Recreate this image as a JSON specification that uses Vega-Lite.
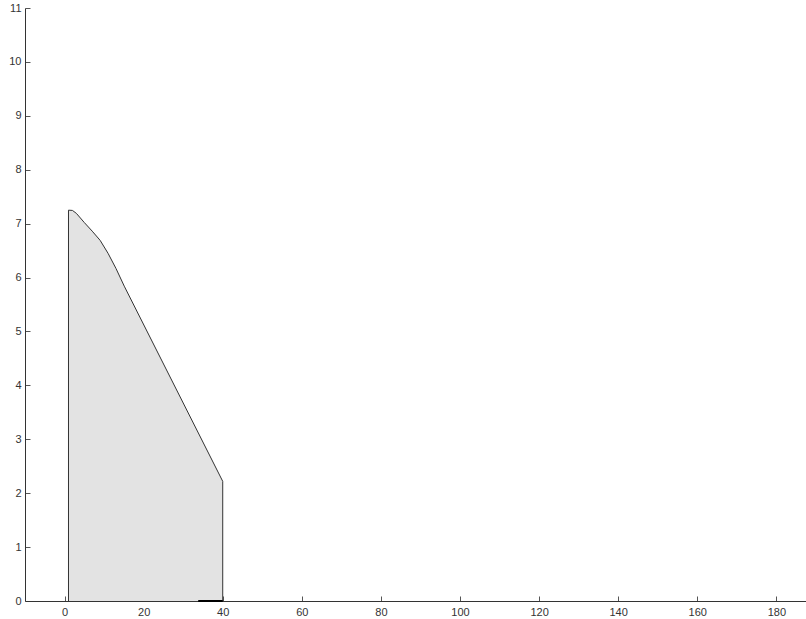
{
  "$schema": "https://vega.github.io/schema/vega-lite/v6.json",
  "autosize": "none",
  "padding": {"left": 25, "top": 8, "right": 0, "bottom": 18},
  "width": 781,
  "height": 593,
  "background": "white",
  "config": {
    "view": {"stroke": null},
    "axis": {
      "grid": true,
      "gridColor": "#555555",
      "gridOpacity": 1,
      "domainColor": "#333333",
      "ticks": false,
      "labelColor": "#333333",
      "labelFont": "Liberation Sans",
      "labelFontSize": 11,
      "domainWidth": 1,
      "title": null
    }
  },
  "datasets": {
    "shape": [
      {"x": 1.0, "y": 7.25},
      {"x": 2.0, "y": 7.245},
      {"x": 3.0, "y": 7.19},
      {"x": 5.0, "y": 7.02},
      {"x": 7.0, "y": 6.86},
      {"x": 9.0, "y": 6.69},
      {"x": 11.0, "y": 6.45},
      {"x": 13.0, "y": 6.17},
      {"x": 15.1, "y": 5.84},
      {"x": 40.0, "y": 2.22}
    ],
    "outline": [
      {"o": 0, "x": 1.0, "y": 0},
      {"o": 1, "x": 1.0, "y": 7.25},
      {"o": 2, "x": 2.0, "y": 7.245},
      {"o": 3, "x": 3.0, "y": 7.19},
      {"o": 4, "x": 5.0, "y": 7.02},
      {"o": 5, "x": 7.0, "y": 6.86},
      {"o": 6, "x": 9.0, "y": 6.69},
      {"o": 7, "x": 11.0, "y": 6.45},
      {"o": 8, "x": 13.0, "y": 6.17},
      {"o": 9, "x": 15.1, "y": 5.84},
      {"o": 10, "x": 40.0, "y": 2.22},
      {"o": 11, "x": 40.0, "y": 0}
    ],
    "bottom": [
      {"x": 33.8, "y": 0},
      {"x": 40.0, "y": 0}
    ]
  },
  "layer": [
    {
      "data": {"name": "shape"},
      "mark": {"type": "area", "color": "#e3e3e3", "opacity": 1},
      "encoding": {
        "x": {"field": "x", "type": "quantitative", "scale": {"domain": [-10, 187.5], "nice": false, "zero": false},
              "axis": {"values": [0, 20, 40, 60, 80, 100, 120, 140, 160, 180], "labelPadding": 5, "gridDash": [0, 588, 5, 3000]}},
        "y": {"field": "y", "type": "quantitative", "scale": {"domain": [0, 11], "nice": false},
              "axis": {"values": [0, 1, 2, 3, 4, 5, 6, 7, 8, 9, 10, 11], "labelPadding": 4, "gridDash": [5, 3000]}}
      }
    },
    {
      "data": {"name": "outline"},
      "mark": {"type": "line", "color": "#333333", "strokeWidth": 1},
      "encoding": {
        "x": {"field": "x", "type": "quantitative"},
        "y": {"field": "y", "type": "quantitative"},
        "order": {"field": "o", "type": "quantitative"}
      }
    },
    {
      "data": {"name": "bottom"},
      "mark": {"type": "line", "color": "#000000", "strokeWidth": 2},
      "encoding": {
        "x": {"field": "x", "type": "quantitative"},
        "y": {"field": "y", "type": "quantitative"}
      }
    }
  ]
}
